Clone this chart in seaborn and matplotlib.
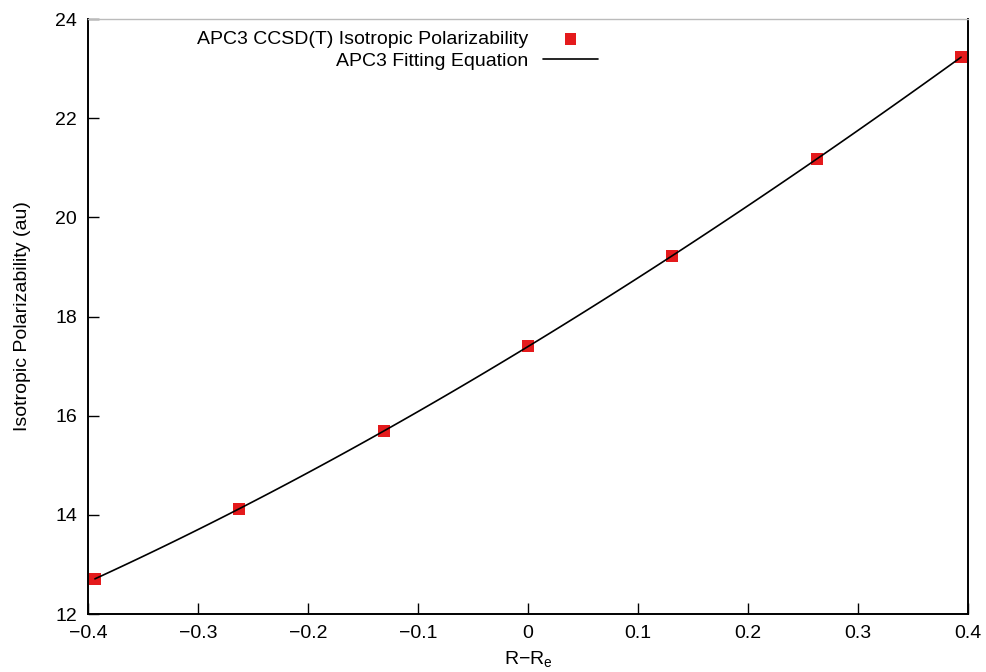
import numpy as np
import pandas as pd
import seaborn as sns
import matplotlib.pyplot as plt

# Displacement from equilibrium bond length and CCSD(T) isotropic polarizability
r_offset = [-0.39375, -0.2625, -0.13125, 0.0, 0.13125, 0.2625, 0.39375]
polarizability = [12.71, 14.12, 15.69, 17.40, 19.22, 21.18, 23.23]

x_ticks = [-0.4, -0.3, -0.2, -0.1, 0.0, 0.1, 0.2, 0.3, 0.4]
y_ticks = [12, 14, 16, 18, 20, 22, 24]

df = pd.DataFrame({"r": r_offset, "alpha": polarizability})

sns.set_theme(style="white")
plt.rcParams["font.family"] = ["Liberation Sans", "DejaVu Sans"]
plt.rcParams["mathtext.fontset"] = "custom"
plt.rcParams["mathtext.rm"] = "Liberation Sans"
plt.rcParams["mathtext.it"] = "Liberation Sans"
plt.rcParams["text.color"] = "black"
plt.rcParams["axes.labelcolor"] = "black"

FS = 14

fig = plt.figure(figsize=(9.87, 6.72), dpi=100)
ax = fig.add_axes([0.0892, 0.0863, 0.8915, 0.8854])

sns.scatterplot(data=df, x="r", y="alpha", marker="s", s=72, color="#e41a1c",
                edgecolor="none", linewidth=0, ax=ax, zorder=2, clip_on=False,
                label="APC3 CCSD(T) Isotropic Polarizability")
sns.regplot(data=df, x="r", y="alpha", order=3, ci=None, scatter=False,
            truncate=True, ax=ax, label="APC3 Fitting Equation",
            line_kws=dict(color="black", lw=1.2, zorder=3))

ax.set_xlim(-0.4, 0.4)
ax.set_ylim(12, 24)
ax.set_xticks(x_ticks)
ax.set_xticklabels([f"{v:g}".replace("-", "\u2212") for v in x_ticks])
ax.set_yticks(y_ticks)
ax.set_xlabel("R\u2212R$_\\mathregular{e}$", fontsize=FS)
ax.set_ylabel("Isotropic Polarizability (au)", fontsize=FS)
ax.xaxis.set_label_coords(0.5, -0.058)
ax.yaxis.set_label_coords(-0.065, 0.5)

ax.tick_params(axis="both", direction="in", length=8, width=1, colors="black",
               labelsize=FS, bottom=True, left=True, top=False, right=False)
ax.tick_params(axis="x", pad=8)
ax.tick_params(axis="y", pad=8)

for side in ["left", "bottom", "right"]:
    ax.spines[side].set_color("black")
    ax.spines[side].set_linewidth(1.4)
ax.spines["top"].set_color("#bbbbbb")
ax.spines["top"].set_linewidth(1.0)

ax.legend(loc="upper right", bbox_to_anchor=(0.5925, 1.0), frameon=False,
          markerfirst=False, fontsize=FS, handlelength=2.8,
          handletextpad=0.75, labelspacing=0.2, borderaxespad=0.2)

fig.savefig("out.png", dpi=100)
